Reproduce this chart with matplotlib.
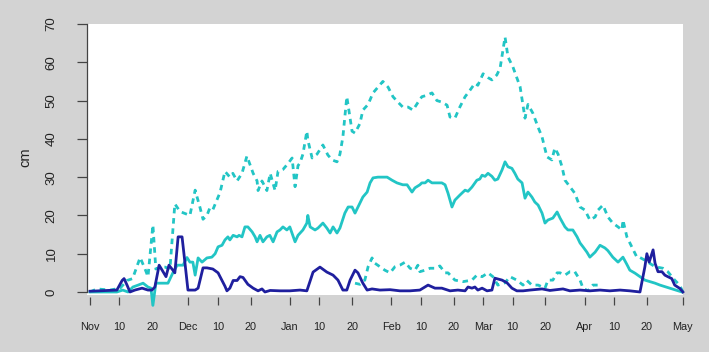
import numpy as np
import matplotlib
matplotlib.use("Agg")
import matplotlib.pyplot as plt
from matplotlib.patches import Rectangle

plt.rcParams['font.family'] = ['Liberation Sans', 'DejaVu Sans']

# days counted from 1 Nov
tick_days = [0, 9, 19, 30, 39, 49, 61, 70, 80, 92, 101, 111, 120, 129, 139, 151, 160, 170, 181]
tick_labels = ['Nov', '10', '20', 'Dec', '10', '20', 'Jan', '10', '20', 'Feb', '10', '20',
               'Mar', '10', '20', 'Apr', '10', '20', 'May']

# upper dashed series
hi_day = [0, 2.1, 6.1, 9.2, 11.3, 13, 15.3, 16.8, 17.7, 19.2, 20.1, 21.4, 22.9, 24.4, 25.9,
          27.5, 29, 30.5, 32.1, 33.6, 34.5, 35.7, 36.6, 37.5, 39.7, 41.2, 42.7, 43.6, 44.9,
          46.4, 47.9, 49.8, 51, 51.3, 52.5, 54, 55, 56.5, 57.4, 58.9, 60.4, 61.7, 62.6, 63.5,
          64.1, 65, 66.2, 66.5, 67.8, 69.3, 71.1, 72.6, 73.9, 75.4, 76.3, 77.2, 78.4, 80,
          80.9, 82.4, 83.3, 84.9, 86.4, 87.9, 89.4, 91, 92.5, 94, 95.5, 97.1, 98.6, 100.1,
          101.3, 102.9, 104.4, 105.9, 107.4, 109, 109.9, 111.4, 112.9, 114.5, 116, 117.5,
          118.4, 120, 121.5, 122.7, 124.2, 125.2, 126.7, 127.6, 129.1, 130.3, 131.3, 132.8,
          133.7, 135.2, 136.8, 138, 139.5, 141, 141.9, 142.9, 144.1, 145, 146.5, 148, 149.6,
          151.1, 152.6, 154.2, 155.1, 156.6, 158.1, 159.6, 161.2, 162.4, 162.7, 163.9, 165.4,
          167, 167.9, 169.4, 172.5, 174.9, 176.4, 178.5, 180, 181]
hi_val = [0, 0.8, 0.5, 1, 3, 3.5, 9, 6, 4, 17.5, 6, 6.5, 6.5, 6, 23,
          21, 20.5, 20, 26.6, 22, 19, 20, 22, 21.5, 26, 31.5, 30, 31, 29,
          31, 35.5, 31, 29, 26.5, 29, 26.5, 31, 26.5, 31.5, 32, 33.5, 35, 27.5, 33,
          33.7, 36, 42, 39.7, 35, 36, 38.4, 35.8, 34.5, 34, 36, 40.5, 51, 42,
          41.5, 44, 47.5, 49, 52, 53.5, 55, 53.5, 51, 49.6, 48.3, 48.3, 47.5, 49.5,
          51, 51.4, 52, 50, 49.6, 48.8, 45.7, 45.4, 48.3, 51, 52.7, 54.5,
          54, 57, 56, 55.4, 56.7, 58.5, 66.6, 61.4, 58.8, 56, 53.6, 45.4,
          49, 46.7, 43, 40.5, 35.3, 34.5, 37.6, 36, 32.7, 29.2, 27.5, 25.8, 22.2,
          21.4, 18.8, 19.6, 21.4, 22.7, 19.6, 18, 17, 16.2, 18.8, 14.4, 11.8,
          9, 9, 8.3, 6.6, 6.2, 5.3, 3.1, 1.8, 0]

# lower dashed series
lo_day = [80.9, 82.4, 83.9, 84.9, 86.1, 87, 88.5, 90, 91.6, 93.1, 94.6, 96.2, 97.7, 99.2,
          100.1, 100.7, 102.3, 103.8, 105.3, 106.8, 108.4, 109.3, 111.4, 113.9, 116.6, 118.1,
          119.7, 121.5, 123, 124.5, 126.7, 128.2, 130.3, 132.2, 133.4, 134.9, 136.8, 138.9,
          139.8, 141.3, 142.6, 143.5, 145, 146.5, 148, 149.6, 150.5, 152, 153.5, 155.7]
lo_val = [2.3, 2, 3.1, 6.6, 8.9, 7.5, 6.6, 5.7, 5, 6.6, 7, 7.8, 6.2, 5.7,
          7, 5.3, 5.7, 6.2, 6.2, 6.8, 5, 5, 3.1, 2.7, 3.1, 4.4,
          4, 5, 4, 1.8, 2.4, 4, 3.1, 1.8, 3, 1.8, 1.8, 1,
          3.1, 3.1, 5, 5, 4.4, 5.3, 5.3, 3.1, 1, 0.3, 1.8, 1.8]

# middle solid series
mid_day = [0, 8.2, 10, 11.6, 13.1, 14.7, 16.2, 17.7, 18.6, 19.2, 20.1, 21.4, 23.8, 25.3,
           26.6, 28.4, 29.6, 30.5, 31.4, 32.1, 33, 34.2, 35.7, 37.2, 38.2, 39.1, 40.3, 41.2,
           42.1, 42.7, 43.7, 44.9, 45.5, 46.4, 47.3, 48.2, 49.5, 50.4, 51, 51.9, 52.8, 54,
           54.9, 55.9, 57.1, 58, 58.9, 60.1, 61, 61.7, 62.6, 63.5, 65, 66.2, 66.5, 67.2,
           68.7, 69.6, 71.1, 72.3, 73.3, 74.2, 75.4, 76.3, 77.8, 78.8, 80, 80.9, 81.8, 83.3,
           84.6, 85.5, 86.4, 87.9, 90.7, 92.2, 93.7, 95.5, 96.8, 98.3, 99.2, 100.7, 101.3,
           102.3, 103.2, 104.4, 105.9, 107.4, 108.4, 109.3, 110.5, 111.4, 112.9, 114.5,
           115.4, 116.6, 118.1, 119, 119.7, 120.6, 121.5, 122.7, 123.6, 124.5, 125.8, 126.7,
           127.6, 128.8, 129.7, 130.6, 131.9, 132.8, 133.7, 134.9, 135.8, 136.8, 138, 138.9,
           139.8, 141.3, 142.6, 143.5, 145, 145.9, 147.4, 148.7, 149.6, 150.5, 151.7, 152.6,
           154.2, 155.7, 157.2, 158.1, 159.6, 161.2, 162.7, 163.9, 164.8, 166.4, 167.9,
           169.4, 170.9, 172.5, 174, 175.5, 177, 178.5, 180.7]
mid_val = [0, 0, 0.5, 0, 1.3, 1.8, 2.3, 1.3, 1, -3.5, 2.3, 2.3, 2.3, 5,
           7, 7, 9, 7.8, 7.8, 4.4, 8.9, 7.8, 8.9, 9.1, 10, 11.8, 12.2, 13.6,
           14.4, 13.6, 14.8, 14.4, 14.8, 14.4, 17, 17, 15.7, 14.4, 13.1, 14.8, 13.1, 14.4,
           14.8, 13.1, 15.7, 16.2, 17, 16.2, 17, 15.3, 13.1, 14.8, 16.2, 18, 20, 17,
           16.2, 16.7, 18, 16.7, 15.4, 17, 15.4, 16.7, 20.6, 22.2, 22.2, 20.6, 22.2, 24.8,
           26.1, 28.5, 29.8, 30, 30, 29.2, 28.5, 28, 28, 26.1, 27.2, 28, 28.5,
           28.5, 29.2, 28.5, 28.5, 28.5, 28, 25.8, 22.2, 24, 25.3, 26.6,
           26.3, 27.4, 29.2, 29.5, 30.5, 30.2, 31, 30.2, 29.2, 29.5, 31.9, 34,
           32.7, 32.3, 31, 29.5, 28.5, 24.5, 26.1, 24.8, 23.5, 22.7, 20.6, 18,
           18.8, 19.3, 20.9, 19.3, 17, 16.2, 16.2, 14.4, 12.8, 11.8, 10.4, 9.1,
           10.4, 12.2, 11.5, 10.8, 9.1, 7.8, 9.1, 7.2, 5.7, 4.9, 4,
           3.1, 2.7, 2.3, 1.8, 1.4, 1, 0.6, 0]

# dark blue solid series
low_day = [0, 8.2, 9.8, 10.4, 11.3, 12.2, 13.7, 15.9, 17.7, 18.9, 19.8, 21.1, 22.3, 23.2,
           24.1, 25.3, 25.9, 26.9, 28.1, 29, 29.9, 32.1, 33, 34.5, 35.7, 37.5, 39.1, 41.2,
           41.8, 42.7, 43.7, 44.9, 45.8, 46.7, 48.2, 49.8, 51.3, 52.5, 53.4, 55, 58, 61,
           64.1, 66.2, 68.1, 70.2, 72.3, 74.2, 75.7, 77.2, 78.4, 79.4, 80.9, 81.8, 83.3,
           84.6, 86.1, 88.5, 91.6, 94.6, 97.7, 100.7, 103.2, 105.3, 107.4, 109.9, 112.3,
           114.5, 115.4, 116.6, 117.5, 118.4, 119.7, 121.2, 122.7, 123.6, 124.5, 125.8,
           127.3, 128.8, 130.3, 132.2, 134.3, 138, 140.4, 144.4, 146.5, 149.6, 152.6, 155.7,
           158.7, 161.8, 164.8, 167.9, 169.4, 170, 170.7, 171.9, 172.5, 173.4, 174.6, 175.5,
           176.4, 177.6, 178.5, 180.1, 181]
low_val = [0.2, 0.5, 3, 3.5, 1.8, 0, 0.5, 1, 0.5, 0.5, 1.3, 7, 5.3, 4,
           7, 5.7, 5, 14.4, 14.4, 7.5, 0.5, 0.5, 1, 6.3, 6.3, 6, 5, 1.5,
           0.3, 1, 3, 3, 4, 3.8, 2, 1, 0.3, 0.8, 0, 0.4, 0.3, 0.3,
           0.5, 0.3, 5.2, 6.5, 5.2, 4.4, 3.1, 0.5, 0.5, 3.1, 5.7, 5, 2.3,
           0.5, 0.8, 0.5, 0.6, 0.3, 0.3, 0.5, 1.8, 1, 1, 0.3, 0.5,
           0.3, 1.3, 1, 1.3, 0.5, 1, 0.3, 0.5, 3.6, 3.4, 3.1,
           2.4, 1, 0.3, 0.3, 0.5, 0.8, 0.4, 0.8, 0.3, 0.5, 0.3, 0.5,
           0.3, 0.5, 0.3, 0, 6.6, 10, 7.8, 11, 7.5, 5.3, 5.3, 4.4,
           4, 3.5, 1.8, 0.9, 0]

bg = '#d3d3d3'
teal = '#22c5c5'
navy = '#1f1f9e'

fig = plt.figure(figsize=(7.09, 3.52), dpi=100, facecolor=bg)
ax = fig.add_axes([0.1227, 0.127, 0.8451, 0.8048])
ax.set_facecolor(bg)
ax.set_xlim(-0.92, 182)
ax.set_ylim(-4, 70)

ax.add_patch(Rectangle((-0.92, -0.8), 181.92, 70.8, facecolor='white', edgecolor='none', zorder=0))

dash = (0, (2.0, 1.7))
ax.plot(hi_day, hi_val, color=teal, lw=2.0, linestyle=dash)
ax.plot(lo_day, lo_val, color=teal, lw=2.0, linestyle=dash)
ax.plot(mid_day, mid_val, color=teal, lw=2.0)
ax.plot(low_day, low_val, color=navy, lw=2.0)

for s in ['top', 'right']:
    ax.spines[s].set_visible(False)
ax.spines['left'].set_bounds(0, 70)
ax.spines['left'].set_color('#444444')
ax.spines['left'].set_linewidth(0.9)
ax.spines['bottom'].set_position(('data', -1.3))
ax.spines['bottom'].set_visible(False)

ax.set_yticks(np.arange(0, 71, 10))
ax.tick_params(axis='y', length=7.2, width=0.9, color='#444444', pad=14,
               labelsize=9.5, labelcolor='#222222', labelrotation=90)
for lab in ax.get_yticklabels():
    lab.set_va('center')

ax.set_xticks(tick_days)
ax.set_xticklabels(tick_labels)
ax.tick_params(axis='x', length=5.8, width=0.9, color='#444444', pad=12,
               labelsize=7.8, labelcolor='#222222')

fig.text(25 / 709, 1 - 157 / 352, 'cm', rotation=90, ha='center', va='center',
         fontsize=10.5, color='#222222')

fig.savefig('out.png', dpi=100, facecolor=bg)
